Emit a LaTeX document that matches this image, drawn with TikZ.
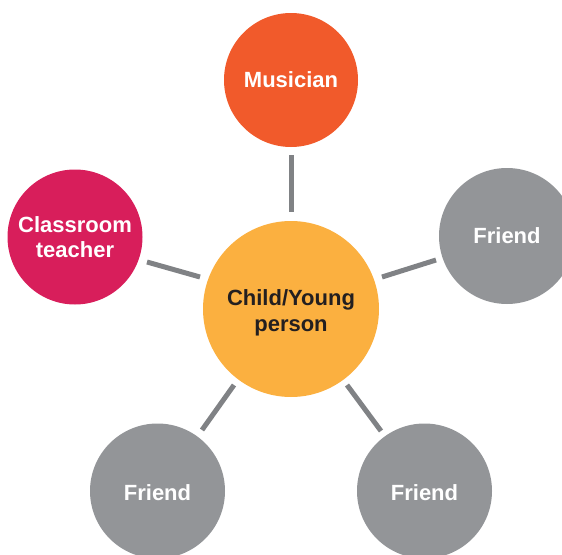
\documentclass[tikz,border=0pt]{standalone}
\usepackage{fontspec}
\setmainfont{Liberation Sans}
\definecolor{musc}{HTML}{F15A2B}
\definecolor{teach}{HTML}{D81E5B}
\definecolor{childc}{HTML}{FBB040}
\definecolor{friendc}{HTML}{939598}
\definecolor{linec}{HTML}{808285}
\definecolor{darktext}{HTML}{231F20}
\tikzset{
  bub/.style={circle, minimum size=#1, inner sep=0pt, align=center, font=\fontsize{22}{24.5}\selectfont\bfseries, text=white},
  link/.style={draw=linec, line width=5pt}
}
\begin{document}
\begin{tikzpicture}[x=1pt,y=-1pt]
\useasboundingbox (0,0) rectangle (562,554);
\clip (0,0) rectangle (562,554);
\node[bub=176pt, fill=childc] (child) at (291,309) {};
\node[text=darktext, align=center, font=\fontsize{22}{26}\selectfont\bfseries] (childt) at (291,313) {Child/Young\\person};
\node[bub=134pt, fill=musc] (mus) at (291,80) {Musician};
\node[bub=135pt, fill=teach] (teach) at (75,237) {Classroom\\teacher};
\node[bub=136pt, fill=friendc] (f1) at (507,236) {Friend};
\node[bub=135pt, fill=friendc] (f2) at (157.5,491) {};
\node[text=white, font=\fontsize{22}{24.5}\selectfont\bfseries] (f2t) at (157.5,493) {Friend};
\node[bub=135pt, fill=friendc] (f3) at (424.5,491) {};
\node[text=white, font=\fontsize{22}{24.5}\selectfont\bfseries] (f3t) at (424.5,493) {Friend};
\coordinate (a1) at (291,155); \coordinate (a2) at (291,212);
\coordinate (b1) at (147,262); \coordinate (b2) at (200,277);
\coordinate (c1) at (382,277); \coordinate (c2) at (436,260);
\coordinate (d1) at (202,430); \coordinate (d2) at (234,385);
\coordinate (e1) at (347,385); \coordinate (e2) at (381,431);
\draw[link] (a1) -- (a2);
\draw[link] (b1) -- (b2);
\draw[link] (c1) -- (c2);
\draw[link] (d1) -- (d2);
\draw[link] (e1) -- (e2);
\end{tikzpicture}
\end{document}
